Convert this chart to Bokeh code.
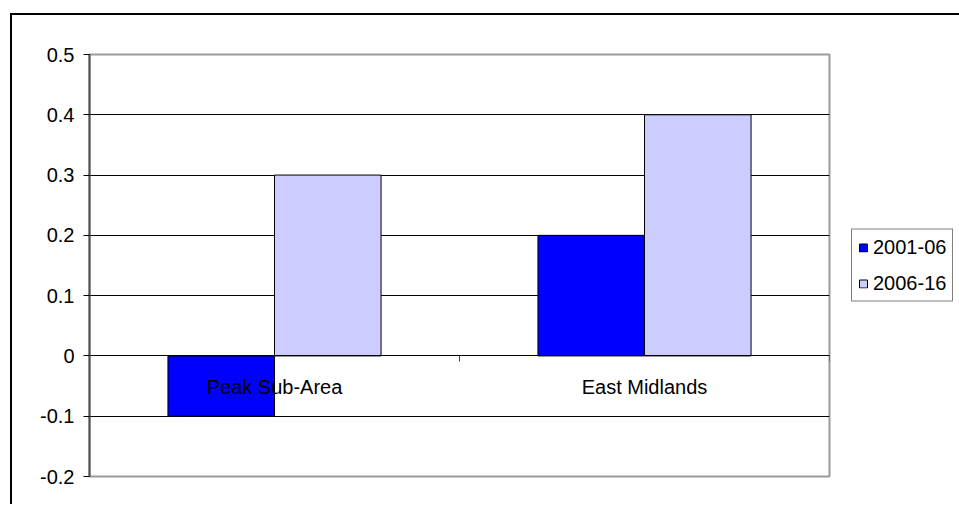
from bokeh.plotting import figure
from bokeh.models import (Range1d, LinearAxis, FixedTicker, Legend, LegendItem,
                          ColumnDataSource, Grid)
from bokeh.embed import file_html
from bokeh.resources import INLINE

categories = ["Peak Sub-Area", "East Midlands"]
series_names = ["2001-06", "2006-16"]
s2001_06 = [-0.1, 0.2]
s2006_16 = [0.3, 0.4]
y_ticks = [-0.2, -0.1, 0.0, 0.1, 0.2, 0.3, 0.4, 0.5]
y_tick_labels = ["-0.2", "-0.1", "0", "0.1", "0.2", "0.3", "0.4", "0.5"]

FONT = "Liberation Sans"
idx = list(range(len(categories)))
bar_w = 0.288
off = 0.144

p = figure(frame_width=740, frame_height=422, output_backend="svg", toolbar_location=None,
           x_range=Range1d(0, len(categories)), y_range=Range1d(-0.2, 0.5),
           min_border_left=77, min_border_right=125, min_border_top=39,
           min_border_bottom=28, x_axis_type=None, y_axis_location=None)
p.styles = {"margin-left": "10px", "margin-top": "13px",
            "border-left": "2px solid black", "border-top": "2px solid black"}
p.background_fill_color = "white"
p.border_fill_color = "white"
p.outline_line_color = "#9a9a9a"
p.outline_line_width = 2

# y axis
yax = LinearAxis(ticker=FixedTicker(ticks=y_ticks),
                 major_label_overrides={t: l for t, l in zip(y_ticks, y_tick_labels)})
yax.axis_line_color = "#505050"
yax.axis_line_width = 2
yax.major_tick_line_color = "black"
yax.major_tick_out = 6
yax.major_tick_in = 0
yax.minor_tick_line_color = None
yax.major_label_text_font = FONT
yax.major_label_text_font_size = "20px"
yax.major_label_text_color = "black"
yax.major_label_standoff = 9
p.add_layout(yax, "left")

# horizontal grid
p.ygrid.visible = False
grid = Grid(dimension=1, ticker=FixedTicker(ticks=[t for t in y_ticks if -0.2 < t < 0.5]),
            grid_line_color="black", grid_line_width=1)
p.add_layout(grid)

# bars
src = ColumnDataSource(dict(
    x1=[i + 0.5 - off for i in idx], x2=[i + 0.5 + off for i in idx],
    a=s2001_06, b=s2006_16))
r1 = p.vbar(x="x1", top="a", bottom=0, width=bar_w, source=src,
            fill_color="#0000ff", line_color="black", line_width=1)
r2 = p.vbar(x="x2", top="b", bottom=0, width=bar_w, source=src,
            fill_color="#ccccff", line_color="black", line_width=1)

# category axis at zero: ticks at boundaries
xt = LinearAxis(ticker=FixedTicker(ticks=[float(i) for i in range(len(categories) + 1)]),
                fixed_location=0)
xt.major_label_text_font_size = "0px"
xt.major_label_text_color = None
xt.axis_line_color = "black"
xt.major_tick_line_color = "#404040"
xt.major_tick_out = 6
xt.major_tick_in = 0
xt.minor_tick_line_color = None
p.add_layout(xt, "below")

xl = LinearAxis(ticker=FixedTicker(ticks=[i + 0.5 for i in idx]),
                major_label_overrides={i + 0.5: c for i, c in zip(idx, categories)},
                fixed_location=0)
xl.axis_line_color = None
xl.major_tick_line_color = None
xl.minor_tick_line_color = None
xl.major_tick_out = 0
xl.major_tick_in = 0
xl.major_label_standoff = 20
xl.major_label_text_font = FONT
xl.major_label_text_font_size = "20px"
xl.major_label_text_color = "black"
p.add_layout(xl, "below")

legend = Legend(items=[LegendItem(label=series_names[0], renderers=[r1]),
                       LegendItem(label=series_names[1], renderers=[r2])],
                location="left", orientation="vertical")
legend.margin = 22
legend.padding = 6
legend.spacing = 13
legend.label_height = 20
legend.glyph_width = 10
legend.glyph_height = 10
legend.label_standoff = 5
legend.label_text_font = FONT
legend.label_text_font_size = "20px"
legend.label_text_color = "black"
legend.border_line_color = "black"
legend.border_line_width = 1
legend.background_fill_color = "white"
p.add_layout(legend, "right")

open("out.html", "w").write(file_html(p, INLINE))
